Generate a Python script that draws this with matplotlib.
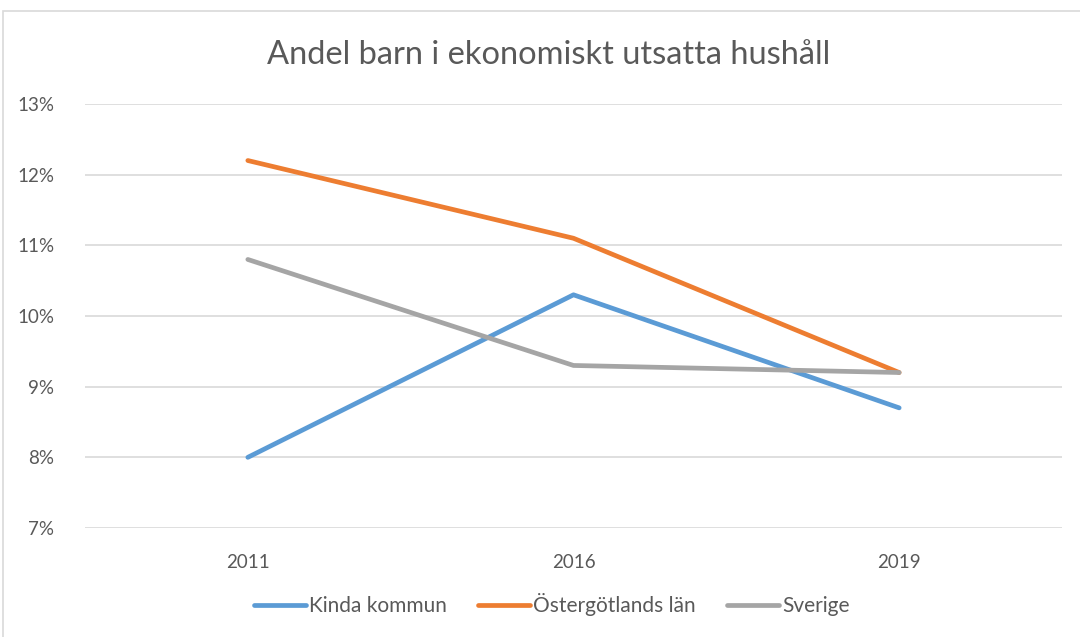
import matplotlib
matplotlib.use("Agg")
import matplotlib.pyplot as plt
from matplotlib.patches import Rectangle
from matplotlib.ticker import FuncFormatter

years = ["2011", "2016", "2019"]
kinda = [8.0, 10.3, 8.7]
ostergotland = [12.2, 11.1, 9.2]
sverige = [10.8, 9.3, 9.2]
series_names = ["Kinda kommun", "Östergötlands län", "Sverige"]
colors = ["#5B9BD5", "#ED7D31", "#A5A5A5"]
title = "Andel barn i ekonomiskt utsatta hushåll"

plt.rcParams['font.family'] = ['Lato', 'DejaVu Sans']
txt = "#595959"

fig = plt.figure(figsize=(10.8, 6.37), dpi=100)
fig.patches.append(Rectangle((3/1080, -0.1), 1.2, 1 - 11/637 + 0.1, transform=fig.transFigure,
                             fill=False, edgecolor="#D9D9D9", linewidth=1.2, zorder=0))

ax = fig.add_axes([85/1080, 1 - 528/637, (1062 - 85)/1080, (528 - 104)/637])
x = list(range(len(years)))
for vals, name, c in zip([kinda, ostergotland, sverige], series_names, colors):
    ax.plot(x, vals, color=c, linewidth=3.4, label=name, solid_capstyle='round', solid_joinstyle='round')

ax.set_xlim(-0.5, len(years) - 0.5)
ax.set_ylim(7, 13)
ax.set_yticks(range(7, 14))
ax.yaxis.set_major_formatter(FuncFormatter(lambda v, p: f"{int(v)}%"))
ax.set_xticks(x)
ax.set_xticklabels(years)
ax.grid(axis='y', color="#D9D9D9", linewidth=1.2)
ax.set_axisbelow(True)
for s in ax.spines.values():
    s.set_visible(False)
ax.tick_params(axis='both', length=0, labelsize=13.5, labelcolor=txt)
ax.tick_params(axis='y', pad=22)
ax.tick_params(axis='x', pad=19)

fig.text(549/1080, 1 - 55/637, title, ha='center', va='center', fontsize=23.5,
         color=txt)

leg = fig.legend(loc='center', bbox_to_anchor=(552/1080, 1 - 605/637), ncol=3, frameon=False,
                 fontsize=15, handlelength=2.5, handletextpad=0.15, columnspacing=1.5,
                 labelcolor=txt)

fig.savefig("out.png", dpi=100)
